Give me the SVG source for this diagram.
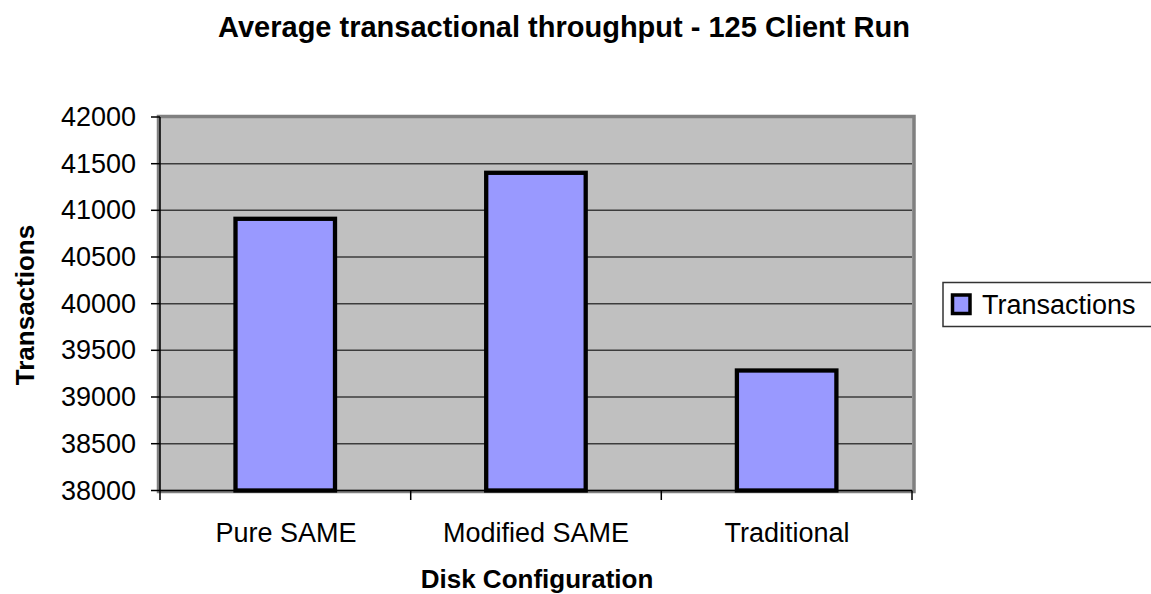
<svg xmlns="http://www.w3.org/2000/svg" width="1151" height="594" viewBox="0 0 1151 594">
  <style>
    text { font-family: "Liberation Sans", Arial, sans-serif; fill: #000; }
    .title { font-size: 29px; font-weight: bold; }
    .axis-title { font-size: 26px; font-weight: bold; }
    .tick-label { font-size: 27px; }
    .grid { stroke: #3c3c3c; stroke-width: 1.6; }
    .axis { stroke: #000; stroke-width: 1.5; fill: none; }
    .bar { fill: #9999FF; stroke: #000; stroke-width: 4.3; }
  </style>
  <rect x="0" y="0" width="1151" height="594" fill="#fff"/>

  <text class="title" x="564" y="37" text-anchor="middle">Average transactional throughput - 125 Client Run</text>

  <!-- plot area -->
  <g id="plot-area">
    <rect x="158.5" y="116.5" width="755.5" height="375" fill="#C0C0C0" stroke="#808080" stroke-width="3.5"/>
    <g id="gridlines">
      <line class="grid" x1="160" y1="163.7" x2="912" y2="163.7"/>
      <line class="grid" x1="160" y1="210.3" x2="912" y2="210.3"/>
      <line class="grid" x1="160" y1="257" x2="912" y2="257"/>
      <line class="grid" x1="160" y1="303.7" x2="912" y2="303.7"/>
      <line class="grid" x1="160" y1="350.3" x2="912" y2="350.3"/>
      <line class="grid" x1="160" y1="397" x2="912" y2="397"/>
      <line class="grid" x1="160" y1="443.7" x2="912" y2="443.7"/>
    </g>
  </g>

  <!-- bars -->
  <g id="bar-pure-same">
    <rect class="bar" x="235.5" y="218.8" width="99.5" height="271.7"/>
  </g>
  <g id="bar-modified-same">
    <rect class="bar" x="486.2" y="172.8" width="99.5" height="317.7"/>
  </g>
  <g id="bar-traditional">
    <rect class="bar" x="736.9" y="370.5" width="99.5" height="120"/>
  </g>

  <!-- axes and ticks -->
  <g id="axes">
    <line class="axis" x1="160" y1="117" x2="160" y2="500"/>
    <line class="axis" x1="160" y1="490.5" x2="912" y2="490.5"/>
    <line class="axis" x1="410.7" y1="490.5" x2="410.7" y2="500"/>
    <line class="axis" x1="661.3" y1="490.5" x2="661.3" y2="500"/>
    <line class="axis" x1="912" y1="490.5" x2="912" y2="500"/>
    <line class="axis" x1="151" y1="117" x2="160" y2="117"/>
    <line class="axis" x1="151" y1="163.7" x2="160" y2="163.7"/>
    <line class="axis" x1="151" y1="210.3" x2="160" y2="210.3"/>
    <line class="axis" x1="151" y1="257" x2="160" y2="257"/>
    <line class="axis" x1="151" y1="303.7" x2="160" y2="303.7"/>
    <line class="axis" x1="151" y1="350.3" x2="160" y2="350.3"/>
    <line class="axis" x1="151" y1="397" x2="160" y2="397"/>
    <line class="axis" x1="151" y1="443.7" x2="160" y2="443.7"/>
    <line class="axis" x1="151" y1="490.5" x2="160" y2="490.5"/>
  </g>

  <!-- value axis labels -->
  <g id="y-labels" text-anchor="end">
    <text class="tick-label" x="136" y="126">42000</text>
    <text class="tick-label" x="136" y="172.7">41500</text>
    <text class="tick-label" x="136" y="219.3">41000</text>
    <text class="tick-label" x="136" y="266">40500</text>
    <text class="tick-label" x="136" y="312.7">40000</text>
    <text class="tick-label" x="136" y="359.3">39500</text>
    <text class="tick-label" x="136" y="406">39000</text>
    <text class="tick-label" x="136" y="452.7">38500</text>
    <text class="tick-label" x="136" y="499.5">38000</text>
  </g>

  <!-- category labels -->
  <g id="x-labels" text-anchor="middle">
    <text class="tick-label" x="286" y="542">Pure SAME</text>
    <text class="tick-label" x="536" y="542">Modified SAME</text>
    <text class="tick-label" x="787" y="542">Traditional</text>
  </g>

  <text class="axis-title" x="537" y="588" text-anchor="middle">Disk Configuration</text>
  <text class="axis-title" transform="translate(34 305) rotate(-90)" text-anchor="middle">Transactions</text>

  <!-- legend -->
  <g id="legend">
    <rect x="943" y="282.5" width="215" height="44" fill="#fff" stroke="#333" stroke-width="1.5"/>
    <rect x="952.5" y="295" width="17.5" height="18.5" fill="#9999FF" stroke="#000" stroke-width="3.5"/>
    <text class="tick-label" x="982" y="314">Transactions</text>
  </g>
</svg>
